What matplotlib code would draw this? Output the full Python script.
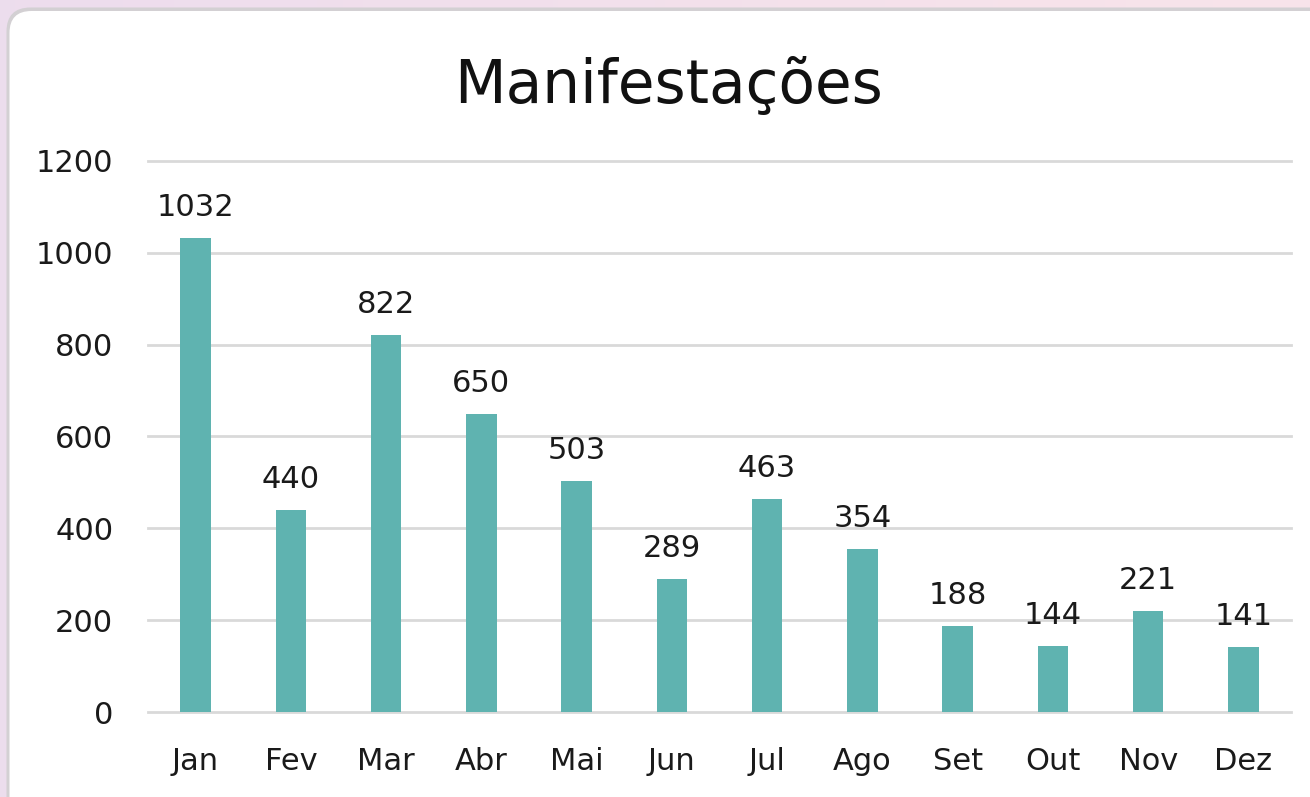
import numpy as np
import matplotlib
matplotlib.use("Agg")
import matplotlib.pyplot as plt
from matplotlib.patches import FancyBboxPatch

months = ["Jan", "Fev", "Mar", "Abr", "Mai", "Jun", "Jul", "Ago", "Set", "Out", "Nov", "Dez"]
values = [1032, 440, 822, 650, 503, 289, 463, 354, 188, 144, 221, 141]
yticks = [0, 200, 400, 600, 800, 1000, 1200]
title = "Manifestações"

plt.rcParams['font.family'] = ['DejaVu Sans']

W, H = 1310, 797
fig = plt.figure(figsize=(W / 100, H / 100), dpi=100)

# background gradient (pixel coordinates, y downward)
bg = fig.add_axes([0, 0, 1, 1], zorder=-10)
grad = np.linspace(0, 1, 256)
c1 = np.array([0.929, 0.867, 0.933])
c2 = np.array([0.976, 0.894, 0.918])
img = c1[None, :] * (1 - grad[:, None]) + c2[None, :] * grad[:, None]
bg.imshow(img[None, :, :], aspect='auto', extent=[0, W, H, 0])
bg.set_xlim(0, W); bg.set_ylim(H, 0)
bg.axis('off')
shadow = FancyBboxPatch((6.5, 7.5), W + 100, H + 100,
                        boxstyle="round,pad=0,rounding_size=24",
                        facecolor='#d3d0d3', edgecolor='none')
card = FancyBboxPatch((9.5, 11), W + 100, H + 100,
                      boxstyle="round,pad=0,rounding_size=22",
                      facecolor='white', edgecolor='none')
bg.add_patch(shadow)
bg.add_patch(card)

ax = fig.add_axes([148 / W, 1 - 712 / H, (1291 - 148) / W, (712 - 161) / H])
ax.set_facecolor('none')
x = np.arange(len(months))
ax.bar(x, values, width=0.32, color='#5fb3b0', zorder=3)
for xi, v in zip(x, values):
    ax.annotate(str(v), (xi, v), xytext=(0, 11.5), textcoords='offset points',
                ha='center', va='bottom', fontsize=22, color='#1a1a1a')

ax.set_xlim(-0.5, len(months) - 0.5)
ax.set_ylim(0, 1200)
ax.set_yticks(yticks)
ax.set_yticklabels([str(t) for t in yticks], fontsize=22, color='#1a1a1a')
ax.set_xticks(x)
ax.set_xticklabels(months, fontsize=22, color='#1a1a1a')
ax.tick_params(axis='both', length=0)
ax.tick_params(axis='y', pad=25)
ax.tick_params(axis='x', pad=25)
ax.grid(axis='y', color='#d9d9d9', linewidth=2, zorder=0)
for gl in ax.get_ygridlines():
    gl.set_clip_on(False)
for s in ax.spines.values():
    s.set_visible(False)

fig.text(669 / W, 1 - 103 / H, title, ha='center', va='baseline', fontsize=43, color='#111111')

fig.savefig("out.png", dpi=100)
